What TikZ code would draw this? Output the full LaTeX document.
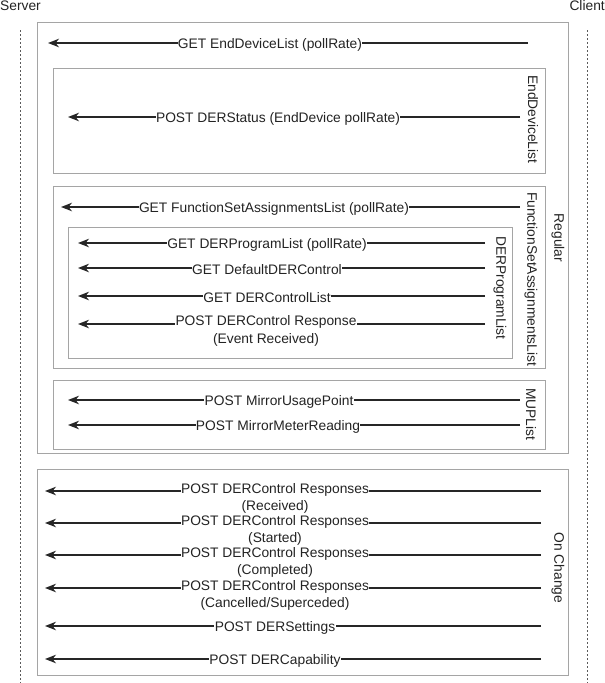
\documentclass[tikz,border=0pt]{standalone}
\usepackage{fontspec}
\setmainfont{Liberation Sans}
\usetikzlibrary{arrows.meta}
\definecolor{boxgray}{RGB}{165,165,165}
\definecolor{txt}{RGB}{35,35,35}
\definecolor{lifec}{RGB}{90,90,90}
\tikzset{
  msg/.style={draw=black!85, line width=1.8pt, -{Stealth[length=11pt,width=8.5pt,inset=3.5pt]}},
  lbl/.style={fill=white, inner sep=0.3pt, font=\fontsize{13.8}{17.8}\selectfont, text=txt, align=center},
  frame/.style={draw=boxgray, line width=1pt, inner sep=0pt, outer sep=0pt, anchor=north west},
  vlbl/.style={rotate=-90, inner sep=0pt, font=\fontsize{13.8}{16}\selectfont, text=txt},
  life/.style={draw=lifec, line width=0.6pt, dash pattern=on 2pt off 2pt},
  top/.style={inner sep=0pt, font=\fontsize{13.8}{16}\selectfont, text=txt}
}
\begin{document}
\begin{tikzpicture}[x=1pt,y=-1pt]
\useasboundingbox (0,0) rectangle (605,683);
% participants
\node[top, anchor=base west] (server) at (0,10) {Server};
\node[top, anchor=base east] (client) at (605,10) {Client};
\coordinate (sTop) at (20,30); \coordinate (sBot) at (20,683);
\coordinate (cTop) at (587,30); \coordinate (cBot) at (587,683);
\draw[life] (sTop) -- (sBot);
\draw[life] (cTop) -- (cBot);
% frames
\node[frame, minimum width=531, minimum height=431] (regular) at (37,22) {};
\node[frame, minimum width=492, minimum height=105] (edl) at (53,68) {};
\node[frame, minimum width=492, minimum height=182] (fsa) at (53,186) {};
\node[frame, minimum width=444, minimum height=131] (dpl) at (68,227) {};
\node[frame, minimum width=492, minimum height=69] (mup) at (53,380) {};
\node[frame, minimum width=531, minimum height=206] (onchg) at (37,469) {};
% frame labels
\node[vlbl] (regularL) at (558,238) {Regular};
\node[vlbl, anchor=west] (edlL) at (533,75) {EndDeviceList};
\node[vlbl, anchor=west] (fsaL) at (531,192) {FunctionSetAssignmentsList};
\node[vlbl, anchor=west] (dplL) at (500,236) {DERProgramList};
\node[vlbl, anchor=west] (mupL) at (531,388) {MUPList};
\node[vlbl] (onchgL) at (558,568) {On Change};
% Regular messages
\coordinate (m1s) at (528,43); \coordinate (m1e) at (48,43);
\draw[msg] (m1s) -- (m1e);
\node[lbl] (l1) at (270,44.5) {GET EndDeviceList (pollRate)};
\coordinate (m2s) at (520,117); \coordinate (m2e) at (68,117);
\draw[msg] (m2s) -- (m2e);
\node[lbl] (l2) at (278,118.5) {POST DERStatus (EndDevice pollRate)};
\coordinate (m3s) at (520,207); \coordinate (m3e) at (61,207);
\draw[msg] (m3s) -- (m3e);
\node[lbl] (l3) at (274,208.5) {GET FunctionSetAssignmentsList (pollRate)};
\coordinate (m4s) at (485,243); \coordinate (m4e) at (78,243);
\draw[msg] (m4s) -- (m4e);
\node[lbl] (l4) at (267,244.5) {GET DERProgramList (pollRate)};
\coordinate (m5s) at (485,268); \coordinate (m5e) at (78,268);
\draw[msg] (m5s) -- (m5e);
\node[lbl] (l5) at (267,269.5) {GET DefaultDERControl};
\coordinate (m6s) at (485,296); \coordinate (m6e) at (78,296);
\draw[msg] (m6s) -- (m6e);
\node[lbl] (l6) at (267,297.5) {GET DERControlList};
\coordinate (m7s) at (485,324); \coordinate (m7e) at (78,324);
\draw[msg] (m7s) -- (m7e);
\node[lbl, anchor=north] (l7) at (266,315) {POST DERControl Response\\(Event Received)};
\coordinate (m8s) at (520,400); \coordinate (m8e) at (68,400);
\draw[msg] (m8s) -- (m8e);
\node[lbl] (l8) at (279,401.5) {POST MirrorUsagePoint};
\coordinate (m9s) at (520,425); \coordinate (m9e) at (68,425);
\draw[msg] (m9s) -- (m9e);
\node[lbl] (l9) at (278,426.5) {POST MirrorMeterReading};
% On Change messages
\coordinate (n1s) at (541,491); \coordinate (n1e) at (45,491);
\draw[msg] (n1s) -- (n1e);
\node[lbl, anchor=north] (k1) at (275,482.5) {POST DERControl Responses\\(Received)};
\coordinate (n2s) at (541,523); \coordinate (n2e) at (45,523);
\draw[msg] (n2s) -- (n2e);
\node[lbl, anchor=north] (k2) at (275,514.5) {POST DERControl Responses\\(Started)};
\coordinate (n3s) at (541,555); \coordinate (n3e) at (45,555);
\draw[msg] (n3s) -- (n3e);
\node[lbl, anchor=north] (k3) at (275,546.5) {POST DERControl Responses\\(Completed)};
\coordinate (n4s) at (541,588); \coordinate (n4e) at (45,588);
\draw[msg] (n4s) -- (n4e);
\node[lbl, anchor=north] (k4) at (275,579.5) {POST DERControl Responses\\(Cancelled/Superceded)};
\coordinate (n5s) at (541,626); \coordinate (n5e) at (45,626);
\draw[msg] (n5s) -- (n5e);
\node[lbl] (k5) at (275,628) {POST DERSettings};
\coordinate (n6s) at (541,659); \coordinate (n6e) at (45,659);
\draw[msg] (n6s) -- (n6e);
\node[lbl] (k6) at (275,661) {POST DERCapability};
\end{tikzpicture}
\end{document}
